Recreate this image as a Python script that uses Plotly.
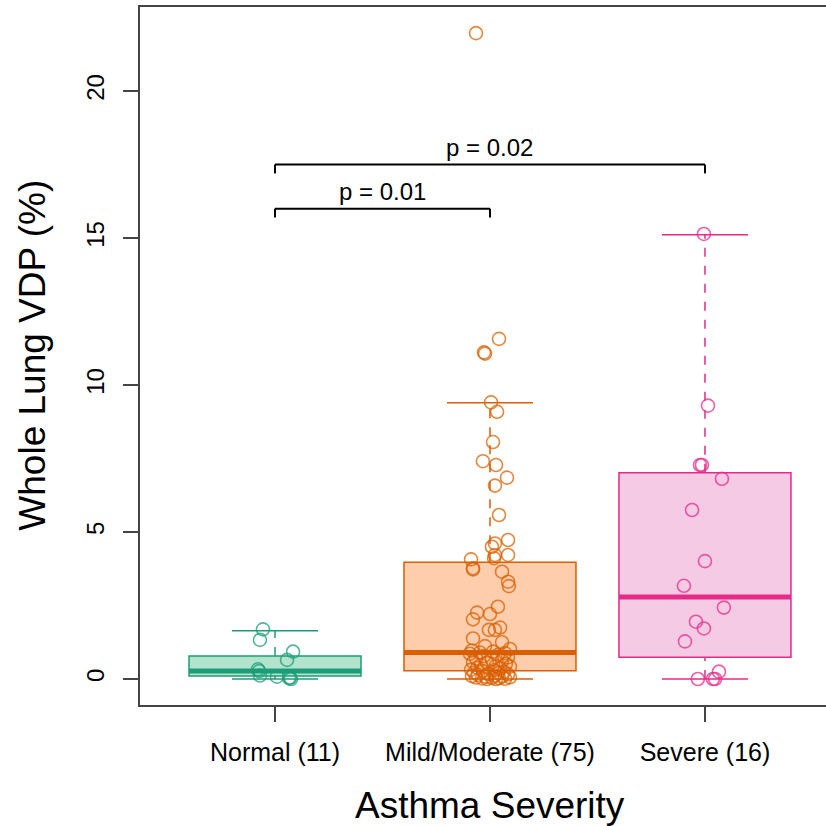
import plotly.graph_objects as go

# ---------------- data ----------------
categories = ["Normal (11)", "Mild/Moderate (75)", "Severe (16)"]

# box statistics: lower whisker, Q1, median, Q3, upper whisker
whisk_lo = [0.0, 0.0, 0.0]
q1 = [0.10, 0.28, 0.74]
median = [0.27, 0.90, 2.79]
q3 = [0.78, 3.97, 7.02]
whisk_hi = [1.64, 9.40, 15.11]

normal_vals = [1.69, 1.33, 0.93, 0.65, 0.33, 0.27, 0.12, 0.08, 0.05, 0.03, 0.0]
normal_jit = [-0.056, -0.070, 0.084, 0.056, -0.079, -0.074, -0.070, 0.009, 0.070, 0.065, 0.074]

mild_vals = [21.97, 11.57, 11.11, 11.07, 9.41, 9.09, 8.06, 7.41, 7.28, 6.85, 6.58, 5.58,
             4.73, 4.61, 4.50, 4.22, 4.22, 4.11, 4.07, 3.77, 3.73, 3.65, 3.31, 3.16,
             2.46, 2.26, 2.21, 2.03, 1.75, 1.67, 1.67, 1.38,
             1.25, 1.12, 1.02, 0.97, 0.93, 0.90, 0.88, 0.86, 0.82, 0.78, 0.74, 0.70,
             0.66, 0.62, 0.58, 0.55, 0.52, 0.48, 0.45, 0.42, 0.38, 0.35, 0.32, 0.30,
             0.27, 0.25, 0.22, 0.20, 0.18, 0.16, 0.14, 0.12, 0.10, 0.09, 0.08, 0.06,
             0.05, 0.04, 0.03, 0.02, 0.01, 0.0, 0.0]
mild_jit = [-0.065, 0.042, -0.028, -0.023, 0.005, 0.033, 0.014, -0.033, 0.028, 0.079, 0.023, 0.042,
            0.084, 0.023, 0.009, 0.084, 0.023, 0.019, -0.088, -0.079, -0.079, 0.056, 0.084, 0.088,
            0.037, -0.060, 0.000, -0.079, 0.047, -0.005, 0.023, -0.079,
            0.056, -0.023, 0.093, -0.084, 0.014, -0.047, 0.070, -0.093, 0.037, -0.028, 0.084, -0.065,
            0.009, 0.056, -0.079, -0.014, 0.074, -0.042, 0.028, 0.093, -0.060, 0.047, -0.088, 0.019,
            -0.033, 0.065, -0.074, 0.037, -0.009, 0.084, -0.056, 0.023, -0.084, 0.056, -0.019, 0.093,
            -0.065, 0.009, 0.042, -0.037, 0.070, -0.014, 0.028]

severe_vals = [15.14, 9.30, 7.28, 7.28, 6.81, 5.75, 4.01, 3.17, 2.43, 1.95, 1.72, 1.28, 0.25, 0.0, 0.0, 0.0]
severe_jit = [-0.005, 0.014, -0.023, -0.014, 0.079, -0.060, 0.000, -0.098, 0.088, -0.042, -0.005, -0.093,
              0.065, -0.033, 0.047, 0.037]

comparisons = [(1, 2, 16.0, "p = 0.01"), (1, 3, 17.5, "p = 0.02")]

line_cols = ["#1B9E77", "#D95F02", "#E7298A"]
fill_cols = ["#B3E2CD", "#FDCDAC", "#F4CAE4"]
pt_cols = ["rgba(27,158,119,0.75)", "rgba(217,95,2,0.75)", "rgba(231,41,138,0.75)"]

FONT = "Liberation Sans, Arial, sans-serif"

fig = go.Figure()
shapes = []
box_half = 0.4
cap_half = 0.2

for i in range(3):
    x = i + 1
    lc = line_cols[i]
    shapes.append(dict(type="rect", xref="x", yref="y", x0=x - box_half, x1=x + box_half,
                       y0=q1[i], y1=q3[i], fillcolor=fill_cols[i],
                       line=dict(color=lc, width=1.5), layer="below"))
    shapes.append(dict(type="line", xref="x", yref="y", x0=x, x1=x, y0=q3[i], y1=whisk_hi[i],
                       line=dict(color=lc, width=1.5, dash="dash"), layer="below"))
    shapes.append(dict(type="line", xref="x", yref="y", x0=x, x1=x, y0=whisk_lo[i], y1=q1[i],
                       line=dict(color=lc, width=1.5, dash="dash"), layer="below"))
    for yv in (whisk_hi[i], whisk_lo[i]):
        shapes.append(dict(type="line", xref="x", yref="y", x0=x - cap_half, x1=x + cap_half,
                           y0=yv, y1=yv, line=dict(color=lc, width=1.5), layer="below"))
    shapes.append(dict(type="line", xref="x", yref="y", x0=x - box_half, x1=x + box_half,
                       y0=median[i], y1=median[i], line=dict(color=lc, width=5), layer="below"))

groups = [(normal_vals, normal_jit), (mild_vals, mild_jit), (severe_vals, severe_jit)]
for i, (vals, jit) in enumerate(groups):
    fig.add_trace(go.Scatter(
        x=[i + 1 + j for j in jit], y=vals, mode="markers",
        marker=dict(symbol="circle-open", size=13, color=pt_cols[i], line=dict(width=1.6)),
        showlegend=False, hoverinfo="y"))

annotations = []
for (a, b, yb, label) in comparisons:
    drop = 0.3
    shapes.append(dict(type="line", xref="x", yref="y", x0=a, x1=b, y0=yb, y1=yb,
                       line=dict(color="black", width=2)))
    shapes.append(dict(type="line", xref="x", yref="y", x0=a, x1=a, y0=yb, y1=yb - drop,
                       line=dict(color="black", width=2)))
    shapes.append(dict(type="line", xref="x", yref="y", x0=b, x1=b, y0=yb, y1=yb - drop,
                       line=dict(color="black", width=2)))
    annotations.append(dict(x=(a + b) / 2, y=yb, xref="x", yref="y", text=label, showarrow=False,
                            yanchor="bottom", yshift=2, font=dict(size=24, color="black", family=FONT)))

annotations.append(dict(x=2, y=0, xref="x", yref="paper", text="Asthma Severity", showarrow=False,
                        yanchor="middle", yshift=-100, font=dict(size=37, color="black", family=FONT)))
annotations.append(dict(x=0, y=11.0, xref="paper", yref="y", text="Whole Lung VDP (%)", showarrow=False,
                        xanchor="center", xshift=-107, textangle=-90,
                        font=dict(size=37, color="black", family=FONT)))

fig.update_layout(
    width=826, height=826,
    margin=dict(l=140, r=0, t=7, b=121),
    plot_bgcolor="white", paper_bgcolor="white",
    shapes=shapes, annotations=annotations,
    font=dict(family=FONT, color="black"),
    xaxis=dict(range=[0.372, 3.563], tickvals=[1, 2, 3], ticktext=categories,
               showgrid=False, zeroline=False, showline=True, mirror=True,
               linecolor="#444444", linewidth=1.5, ticks="outside", ticklen=15,
               tickcolor="#444444", tickwidth=1.5, tickfont=dict(size=25, family=FONT, color="black"),
               ticklabelstandoff=9),
    yaxis=dict(range=[-0.884, 22.86], tickvals=[0, 5, 10, 15, 20],
               showgrid=False, zeroline=False, showline=True, mirror=False,
               linecolor="#444444", linewidth=1.5, ticks="outside", ticklen=15,
               tickcolor="#444444", tickwidth=1.5, tickangle=-90,
               tickfont=dict(size=24, family=FONT, color="black"), ticklabelstandoff=10),
)

fig.write_html("out.html")
